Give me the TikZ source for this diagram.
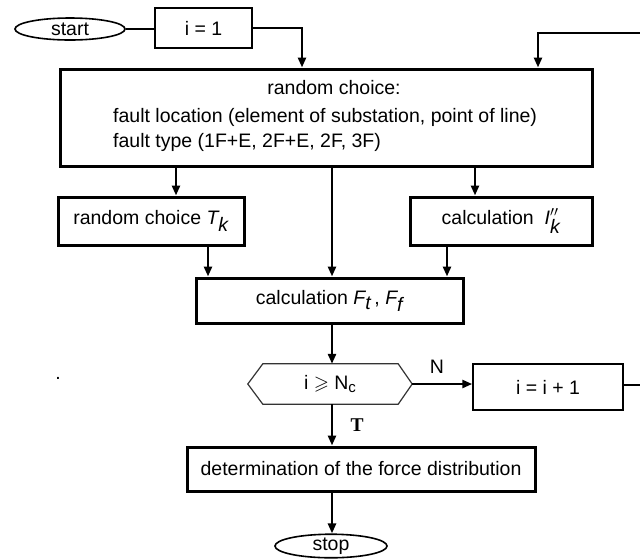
\documentclass[tikz,border=0pt]{standalone}
\usepackage{amssymb}
\usepackage{fontspec}
\setmainfont{Liberation Sans}
\newfontfamily\labelserif{Liberation Serif}
\usetikzlibrary{arrows.meta,shapes.geometric,calc}
% lowered small text for the index in the decision
\newcommand\mysub[1]{\raisebox{-0.35ex}{\fontsize{15}{15}\selectfont #1}}
\begin{document}
\begin{tikzpicture}[x=1pt,y=-1pt,
  every node/.style={font=\fontsize{19.5}{24}\selectfont, inner sep=0pt},
  thickbox/.style={draw, line width=3pt, minimum width=#1},
  thinbox/.style={draw, line width=1.5pt, minimum width=#1},
  term/.style={draw, ellipse, line width=1.6pt, minimum width=#1},
  arr/.style={line width=2.8pt, -{Triangle[length=10pt,width=8pt]}}
]
\useasboundingbox (0,0) rectangle (640,558);

% terminals and process boxes
\node[term=110, minimum height=22] (start) at (70,29) {start};
\node[thinbox=97, minimum height=40] (i1) at (203.5,28) {i = 1};
\node[thickbox=532, minimum height=97] (big) at (326,117.5) {};
\node[anchor=base] (t1) at (334,94) {random choice:};
\node[anchor=base west] (t2) at (113,122) {fault location (element of substation, point of line)};
\node[anchor=base west] (t3) at (113,147) {fault type (1F+E, 2F+E, 2F, 3F)};
\node[thickbox=186, minimum height=48] (tk) at (151,221)
  {random choice $\textit{T}_{\textit{k}}$};
\node[thickbox=182, minimum height=48] (ik) at (501,221)
  {calculation\ \ $\textit{I}''_{\textit{k}}$};
\node[thickbox=267, minimum height=45] (calc) at (329.5,300.5)
  {calculation $\textit{F}_{\textit{t}}$\,, $\textit{F}_{\textit{f}}$};

% decision (hexagon drawn on the node's frame)
\node[minimum width=164, minimum height=40] (dec) at (330,384)
  {i $\geqslant$ N\mysub{c}};
\draw[line width=1.2pt, black!80] (dec.west) -- ($(dec.north west)+(15,0)$)
  -- ($(dec.north east)+(-14,0)$) -- (dec.east) -- ($(dec.south east)+(-14,0)$)
  -- ($(dec.south west)+(15,0)$) -- cycle;

\node[thinbox=150, minimum height=46] (inc) at (548,387) {i = i + 1};
\node[thickbox=348, minimum height=44] (det) at (361,469) {determination of the force distribution};
\node[term=112, minimum height=18] (stop) at (331,546) {stop};

% stray dot
\node (dot) at (58,378) {.};

% branch labels
\node (lN) at (437,367) {N};
\node (lT) at (357,425) {\labelserif\bfseries T};

% helper coordinates for vertical runs
\coordinate (xa) at (302,0);
\coordinate (xb) at (538,0);
\coordinate (xl) at (176,0);
\coordinate (xm) at (332,0);
\coordinate (xr) at (475,0);
\coordinate (xtk) at (208,0);
\coordinate (xik) at (447,0);
\coordinate (back) at (646,385);
\coordinate (top) at (646,33);

% connectors
\draw[line width=2pt] (start.east) -- (start.east -| i1.west);
\draw[arr] (i1.east) -| (big.north -| xa);
\draw[arr] (inc.east |- back) -- (back) -- (top) -| (big.north -| xb);
\draw[arr] (big.south -| xl) -- (tk.north -| xl);
\draw[arr] (big.south -| xm) -- (calc.north -| xm);
\draw[arr] (big.south -| xr) -- (ik.north -| xr);
\draw[arr] (tk.south -| xtk) -- (calc.north -| xtk);
\draw[arr] (ik.south -| xik) -- (calc.north -| xik);
\draw[arr] (calc.south -| xm) -- (dec.north -| xm);
\draw[arr] (dec.east) -- (dec.east -| inc.west);
\draw[arr] (dec.south -| xm) -- (det.north -| xm);
\draw[arr] (det.south -| xm) -- (stop.north -| xm);
\end{tikzpicture}
\end{document}
